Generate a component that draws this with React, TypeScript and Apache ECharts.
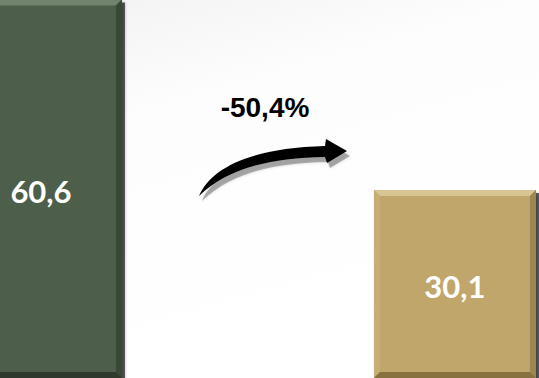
import React, { useEffect, useRef } from "react";
import * as echarts from "echarts";

const categories = ["Antes", "Depois"];
const values = [60.6, 30.1];
const changeLabel = "-50,4%";

const palettes = [
  { base: "#4d5f4a", light: "#71826d", side: "#56674f", dark: "#3a4837", darker: "#2f3a2c" },
  { base: "#c0a66b", light: "#d9c592", side: "#c6ae76", dark: "#9d864f", darker: "#86713f" },
];

const BAR_W = 162;
const BEVEL = 6;

const arrowPath =
  "M199,196 C211,168 250,148 325,146 L326,139 L347,151 L327,163 L325,157 C265,158 226,170 199,196 Z";

export default function App() {
  const ref = useRef<HTMLDivElement>(null);
  useEffect(() => {
    if (!ref.current) return;
    document.body.style.margin = "0";
    echarts.graphic.registerShape("logo", echarts.graphic.extendPath(arrowPath, {}) as any);
    const chart = echarts.init(ref.current, null, { renderer: "svg" });
    const data = values.map((v, i) => [i, v]);
    chart.setOption({
      animation: false,
      backgroundColor: "#ffffff",
      grid: { left: 0, right: 0, top: 0, bottom: 0 },
      xAxis: { type: "value", min: -0.099, max: 1.203, show: false },
      yAxis: { type: "value", min: 0, max: 60.5, show: false },
      graphic: [
        {
          type: "rect",
          z: -10,
          silent: true,
          shape: { x: 0, y: 0, width: 539, height: 378 },
          style: {
            fill: new echarts.graphic.LinearGradient(0, 0, 0.4, 1, [
              { offset: 0, color: "#f1f1f1" },
              { offset: 0.35, color: "#fdfdfd" },
              { offset: 1, color: "#ffffff" },
            ]),
          },
        },
        {
          type: "logo",
          x: 3,
          y: 5,
          z: 5,
          style: { fill: "rgba(120,120,120,0.55)", shadowBlur: 3, shadowColor: "rgba(120,120,120,0.6)" },
        },
        {
          type: "logo",
          x: 0,
          y: 0,
          z: 6,
          style: { fill: "#000000" },
        },
        {
          type: "text",
          z: 6,
          style: {
            x: 265,
            y: 107,
            text: changeLabel,
            textAlign: "center",
            textVerticalAlign: "middle",
            fill: "#000000",
            font: "bold 28px 'Liberation Sans', Arial, sans-serif",
          },
        },
      ],
      series: [
        {
          type: "custom",
          name: "valores",
          data,
          renderItem: (params: any, api: any) => {
            const idx = params.dataIndex;
            const xv = api.value(0);
            const yv = api.value(1);
            const top = api.coord([xv, yv]);
            const bot = api.coord([xv, 0]);
            const cx = top[0];
            const ty = top[1];
            const by = bot[1];
            const w = BAR_W;
            const x0 = cx - w / 2;
            const x1 = cx + w / 2;
            const b = BEVEL;
            const p = palettes[idx];
            const label = String(values[idx]).replace(".", ",");
            return {
              type: "group",
              children: [
                {
                  type: "rect",
                  shape: { x: x0 + 3, y: ty + 3, width: w, height: by - ty },
                  style: { fill: "rgba(0,0,0,0.6)", shadowBlur: 3, shadowColor: "rgba(0,0,0,0.5)" },
                },
                { type: "rect", shape: { x: x0, y: ty, width: w, height: by - ty }, style: { fill: p.base } },
                {
                  type: "polygon",
                  shape: { points: [[x0, ty], [x1, ty], [x1 - b, ty + b], [x0 + b, ty + b]] },
                  style: { fill: p.light },
                },
                {
                  type: "polygon",
                  shape: { points: [[x0, ty], [x0 + b, ty + b], [x0 + b, by - b], [x0, by]] },
                  style: { fill: p.side },
                },
                {
                  type: "polygon",
                  shape: { points: [[x1, ty], [x1, by], [x1 - b, by - b], [x1 - b, ty + b]] },
                  style: { fill: p.dark },
                },
                {
                  type: "polygon",
                  shape: { points: [[x0, by], [x1, by], [x1 - b, by - b], [x0 + b, by - b]] },
                  style: { fill: p.darker },
                },
                {
                  type: "text",
                  style: {
                    x: cx,
                    y: (ty + by) / 2 + 2,
                    text: label,
                    textAlign: "center",
                    textVerticalAlign: "middle",
                    fill: "#ffffff",
                    font: "bold 31px Lato, 'Open Sans', sans-serif",
                  },
                },
              ],
            };
          },
        },
      ],
    });
    return () => chart.dispose();
  }, []);
  return <div ref={ref} style={{ width: 539, height: 378 }} data-categories={categories.join(",")} />;
}
